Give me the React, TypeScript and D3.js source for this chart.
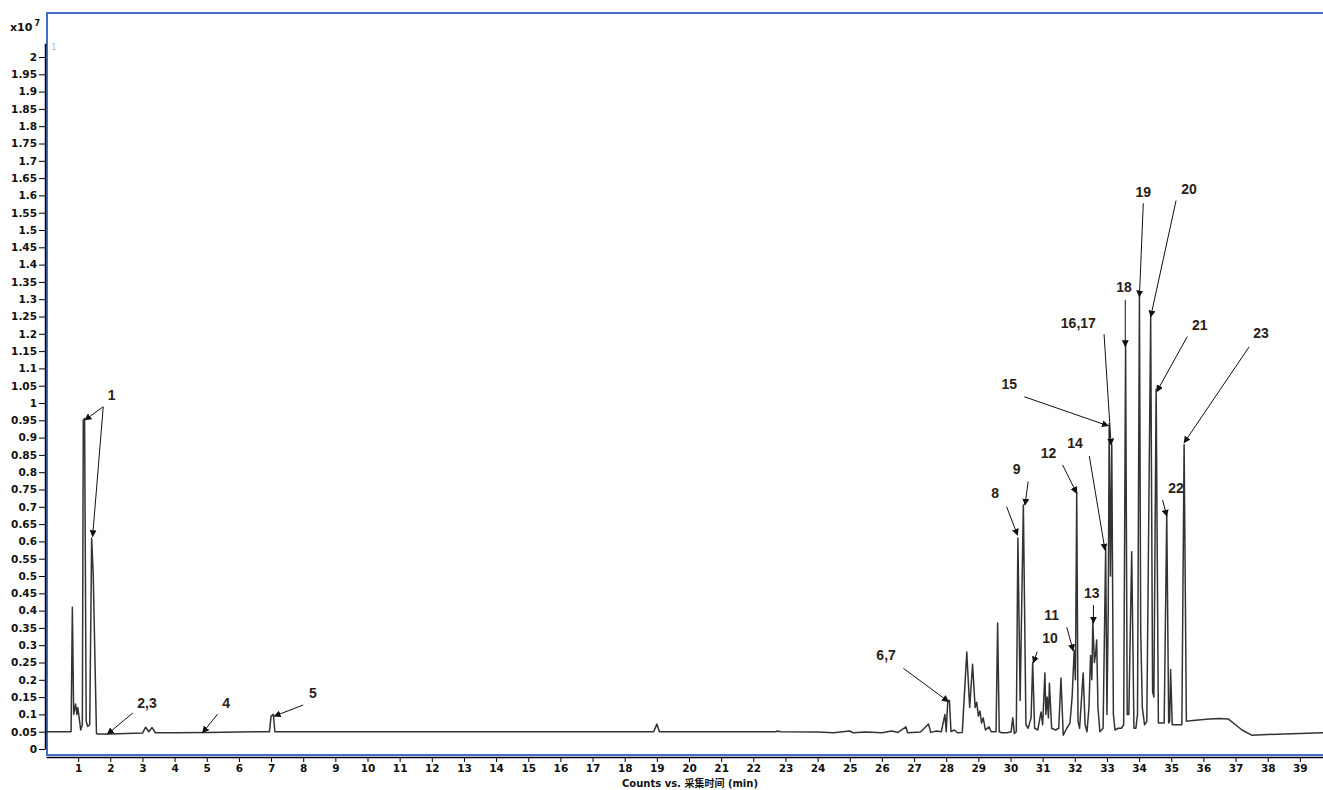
import { useEffect, useRef } from "react";
import * as d3 from "d3";

// chromatogram trace: [minutes, counts x10^7]
const trace: [number, number][] = [
  [0, 0.05], [0.78, 0.05], [0.82, 0.41], [0.86, 0.1], [0.92, 0.13], [0.96, 0.1], [0.99, 0.12],
  [1.08, 0.055], [1.13, 0.07], [1.16, 0.95], [1.2, 0.955], [1.25, 0.08], [1.3, 0.065],
  [1.36, 0.07], [1.42, 0.61], [1.47, 0.5], [1.57, 0.045], [1.6, 0.043], [2.0, 0.043],
  [2.5, 0.045], [3.0, 0.046], [3.1, 0.063], [3.2, 0.05], [3.3, 0.062], [3.4, 0.047],
  [4.0, 0.047], [5.0, 0.048], [6.0, 0.049], [6.95, 0.05], [7.0, 0.095], [7.07, 0.1],
  [7.12, 0.05], [10, 0.05], [15, 0.05], [18.9, 0.05], [19.0, 0.072], [19.08, 0.05],
  [22.7, 0.05], [22.75, 0.052], [22.85, 0.05], [24.0, 0.049], [24.5, 0.047], [25.0, 0.052],
  [25.1, 0.047], [25.5, 0.049], [26.0, 0.047], [26.3, 0.052], [26.5, 0.048], [26.75, 0.064],
  [26.8, 0.047], [27.2, 0.049], [27.45, 0.072], [27.52, 0.048], [27.7, 0.052], [27.85, 0.05],
  [27.96, 0.1], [28.0, 0.05], [28.05, 0.14], [28.1, 0.14], [28.15, 0.05], [28.25, 0.055],
  [28.35, 0.047], [28.5, 0.048], [28.64, 0.28], [28.73, 0.12], [28.82, 0.245], [28.9, 0.12],
  [28.95, 0.135], [29.0, 0.095], [29.05, 0.11], [29.1, 0.075], [29.15, 0.09], [29.22, 0.055],
  [29.33, 0.064], [29.4, 0.05], [29.55, 0.05], [29.6, 0.364], [29.65, 0.05], [29.72, 0.047],
  [29.9, 0.047], [30.02, 0.05], [30.07, 0.09], [30.12, 0.045], [30.18, 0.05], [30.23, 0.61],
  [30.3, 0.14], [30.4, 0.705], [30.48, 0.07], [30.55, 0.06], [30.64, 0.09], [30.69, 0.25],
  [30.75, 0.06], [30.85, 0.055], [30.95, 0.107], [31.0, 0.07], [31.07, 0.22], [31.1, 0.1],
  [31.14, 0.15], [31.18, 0.09], [31.21, 0.19], [31.28, 0.06], [31.4, 0.055], [31.5, 0.06],
  [31.57, 0.205], [31.64, 0.04], [31.75, 0.06], [31.85, 0.075], [31.92, 0.155], [31.98, 0.285],
  [32.02, 0.2], [32.06, 0.743], [32.1, 0.08], [32.15, 0.06], [32.26, 0.22], [32.32, 0.07],
  [32.38, 0.05], [32.44, 0.12], [32.49, 0.27], [32.53, 0.2], [32.56, 0.37], [32.61, 0.25],
  [32.65, 0.28], [32.68, 0.315], [32.72, 0.12], [32.78, 0.05], [32.88, 0.06], [32.96, 0.58],
  [33.0, 0.1], [33.04, 0.4], [33.07, 0.94], [33.11, 0.5], [33.15, 0.88], [33.2, 0.1],
  [33.25, 0.055], [33.35, 0.06], [33.45, 0.06], [33.52, 0.07], [33.58, 1.17], [33.63, 0.1],
  [33.68, 0.1], [33.77, 0.57], [33.84, 0.06], [33.9, 0.06], [33.95, 0.1], [34.01, 1.31],
  [34.05, 0.34], [34.1, 0.12], [34.17, 0.07], [34.24, 0.08], [34.36, 1.25], [34.42, 0.165],
  [34.46, 0.15], [34.53, 1.04], [34.6, 0.075], [34.78, 0.075], [34.86, 0.68], [34.92, 0.075],
  [34.95, 0.08], [34.98, 0.23], [35.03, 0.07], [35.33, 0.07], [35.4, 0.88], [35.47, 0.08],
  [35.6, 0.082], [36.0, 0.085], [36.2, 0.087], [36.5, 0.088], [36.77, 0.087], [37.0, 0.07],
  [37.2, 0.055], [37.5, 0.04], [38.0, 0.042], [39.0, 0.045], [39.72, 0.047],
];

// peak annotations in data units: label centre, arrow start, arrow tips
const peakLabels = ["1", "2,3", "4", "5", "6,7", "8", "9", "10", "11", "12", "13", "14", "15", "16,17", "18", "19", "20", "21", "22", "23"];
const labelAt: [number, number][] = [
  [2.04, 1.023], [3.14, 0.133], [5.6, 0.133], [8.3, 0.163], [26.13, 0.272], [29.52, 0.74],
  [30.19, 0.809], [31.23, 0.321], [31.28, 0.387], [31.18, 0.856], [32.53, 0.45], [32.01, 0.884],
  [29.96, 1.055], [32.11, 1.232], [33.53, 1.334], [34.13, 1.611], [35.55, 1.618], [35.89, 1.225],
  [35.15, 0.753], [37.79, 1.202],
];
const arrowFrom: [number, number][] = [
  [1.78, 0.989], [2.7, 0.104], [5.34, 0.101], [8.0, 0.127], [26.67, 0.233], [29.88, 0.7],
  [30.55, 0.773], [30.83, 0.281], [31.75, 0.352], [31.62, 0.821], [32.58, 0.416], [32.45, 0.847],
  [30.43, 1.018], [32.91, 1.199], [33.57, 1.298], [34.13, 1.577], [35.15, 1.585], [35.5, 1.192],
  [34.73, 0.72], [37.42, 1.162],
];
const arrowTo: [number, number][][] = [
  [[1.21, 0.951], [1.45, 0.614]], [[1.91, 0.043]], [[4.87, 0.047]], [[7.1, 0.095]], [[28.07, 0.137]],
  [[30.22, 0.618]], [[30.45, 0.705]], [[30.71, 0.249]], [[31.95, 0.284]], [[32.06, 0.739]],
  [[32.58, 0.364]], [[32.94, 0.575]], [[33.04, 0.934]], [[33.13, 0.879]], [[33.57, 1.163]],
  [[34.01, 1.307]], [[34.36, 1.249]], [[34.55, 1.033]], [[34.86, 0.673]], [[35.4, 0.885]],
];

const xTicks = d3.range(1, 40);
const yTicks = d3.range(0, 41).map((i) => +(i * 0.05).toFixed(2));

const W = 1323;
const H = 790;

const App = () => {
  const svgRef = useRef<SVGSVGElement>(null);

  useEffect(() => {
    document.body.style.margin = "0";
    const svg = d3.select(svgRef.current);
    svg.selectAll("*").remove();

    const x = d3.scaleLinear().domain([0, 39.72]).range([46, 1323]);
    const y = d3.scaleLinear().domain([0, 2]).range([749, 57]);

    svg.append("defs").append("marker")
      .attr("id", "head")
      .attr("viewBox", "0 0 10 10")
      .attr("refX", 9).attr("refY", 5)
      .attr("markerWidth", 7).attr("markerHeight", 7)
      .attr("markerUnits", "userSpaceOnUse")
      .attr("orient", "auto")
      .append("path").attr("d", "M0,0L10,5L0,10z").attr("fill", "#111");

    // blue plot frame
    svg.append("rect")
      .attr("x", 47).attr("y", 13).attr("width", 1290).attr("height", 742)
      .attr("fill", "none").attr("stroke", "#3f6fc6").attr("stroke-width", 2);

    svg.append("text").attr("x", 51).attr("y", 50)
      .attr("font-family", "DejaVu Sans").attr("font-size", 9).attr("fill", "#a9bfd6").text("1");

    // trace
    const line = d3.line<[number, number]>().x((d) => x(d[0])).y((d) => y(d[1]));
    svg.append("path").datum(trace)
      .attr("d", line)
      .attr("fill", "none").attr("stroke", "#333").attr("stroke-width", 1.5)
      .attr("stroke-linejoin", "round");

    // axes
    const yAxis = d3.axisLeft(d3.scaleLinear().domain([0, 2.04]).range([749, y(2.04)]))
      .tickValues(yTicks).tickSize(6).tickSizeOuter(0).tickPadding(2)
      .tickFormat((d) => String(d));
    const gy = svg.append("g").attr("transform", "translate(45,0)").call(yAxis);
    gy.select(".domain").attr("stroke-width", 1.5);
    gy.selectAll("text")
      .attr("font-family", "DejaVu Sans").attr("font-size", 10.5).attr("font-weight", "bold").attr("fill", "#111");

    const xAxis = d3.axisBottom(x).tickValues(xTicks).tickSize(5).tickSizeOuter(0).tickPadding(3);
    const gx = svg.append("g").attr("transform", "translate(0,757)").call(xAxis);
    gx.select(".domain").attr("stroke-width", 1.5);
    gx.selectAll("text")
      .attr("font-family", "DejaVu Sans").attr("font-size", 10.5).attr("font-weight", "bold").attr("fill", "#111");

    // exponent and axis title
    const ex = svg.append("text").attr("x", 10).attr("y", 31)
      .attr("font-family", "DejaVu Sans").attr("font-weight", "bold").attr("font-size", 11).attr("fill", "#111");
    ex.append("tspan").text("x10");
    ex.append("tspan").attr("dx", 2).attr("dy", -5).attr("font-size", 8).text("7");

    svg.append("text").attr("x", 690).attr("y", 787).attr("text-anchor", "middle")
      .attr("font-family", "DejaVu Sans, 'Noto Sans CJK SC'").attr("font-weight", "bold")
      .attr("font-size", 10).attr("fill", "#111")
      .text("Counts vs. 采集时间 (min)");

    // annotations
    const ann = svg.append("g");
    peakLabels.forEach((lab, i) => {
      arrowTo[i].forEach((tip) => {
        ann.append("line")
          .attr("x1", x(arrowFrom[i][0])).attr("y1", y(arrowFrom[i][1]))
          .attr("x2", x(tip[0])).attr("y2", y(tip[1]))
          .attr("stroke", "#111").attr("stroke-width", 1)
          .attr("marker-end", "url(#head)");
      });
      ann.append("text")
        .attr("x", x(labelAt[i][0])).attr("y", y(labelAt[i][1]))
        .attr("text-anchor", "middle").attr("dominant-baseline", "central")
        .attr("font-family", "Liberation Sans").attr("font-weight", "bold")
        .attr("font-size", 14).attr("fill", "#2a2218")
        .text(lab);
    });
  }, []);

  return <svg ref={svgRef} width={W} height={H} style={{ display: "block", background: "#fff" }} />;
};

export default App;
